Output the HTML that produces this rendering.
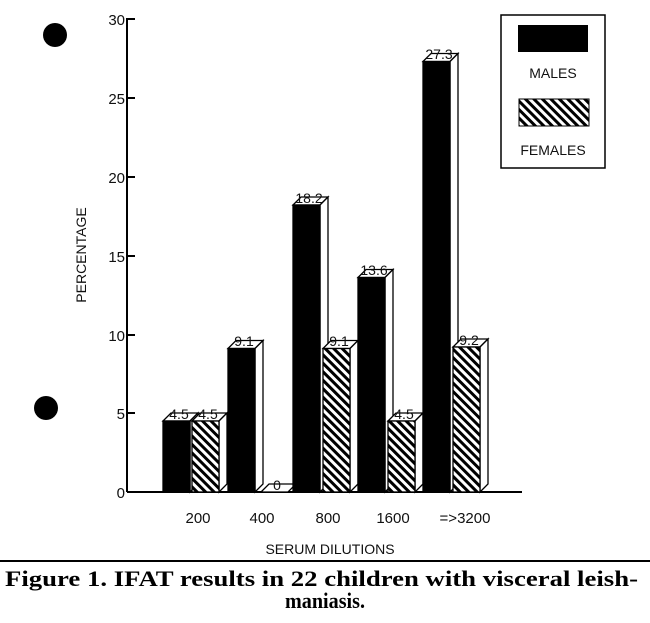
<!DOCTYPE html>
<html><head><style>
body{margin:0;background:#fff;width:650px;height:623px;overflow:hidden}
</style></head><body>
<svg width="650" height="623" xmlns="http://www.w3.org/2000/svg" style="position:absolute;left:0;top:0">
<defs>
<pattern id="h" patternUnits="userSpaceOnUse" width="6" height="6" patternTransform="rotate(-45)">
<rect width="6" height="6" fill="#fff"/><rect width="3" height="6" fill="#000"/>
</pattern>
</defs>
<circle cx="55" cy="35" r="12" fill="#000"/>
<circle cx="46" cy="408" r="12" fill="#000"/>
<g font-family="Liberation Sans Narrow, Liberation Sans, sans-serif" font-size="15" fill="#111">
<line x1="127" y1="18" x2="127" y2="492" stroke="#000" stroke-width="2"/>
<line x1="127" y1="492" x2="522" y2="492" stroke="#000" stroke-width="2"/>
<g stroke="#000" stroke-width="2">
<line x1="127" y1="19" x2="135" y2="19"/><line x1="127" y1="98" x2="135" y2="98"/>
<line x1="127" y1="177" x2="135" y2="177"/><line x1="127" y1="256" x2="135" y2="256"/>
<line x1="127" y1="335" x2="135" y2="335"/><line x1="127" y1="413" x2="135" y2="413"/>
</g>
<g text-anchor="end">
<text x="125" y="25">30</text><text x="125" y="104">25</text><text x="125" y="183">20</text>
<text x="125" y="262">15</text><text x="125" y="341">10</text><text x="125" y="419">5</text><text x="125" y="498">0</text>
</g>
<text transform="translate(86,255) rotate(-90)" text-anchor="middle" font-size="14">PERCENTAGE</text>
<g text-anchor="middle">
<text x="198" y="523">200</text><text x="262" y="523">400</text><text x="328" y="523">800</text>
<text x="393" y="523">1600</text><text x="465" y="523">=&gt;3200</text>
<text x="330" y="554" font-size="14">SERUM DILUTIONS</text>
</g>
</g>
<g stroke="#000" stroke-width="1.3">
<polygon points="163,421 171,413 198,413 190,421" fill="#fff"/><polygon points="190,421 198,413 198,484 190,492" fill="#fff"/><rect x="163" y="421" width="27" height="71" fill="#000"/>
<polygon points="192,421 200,413 227,413 219,421" fill="#fff"/><polygon points="219,421 227,413 227,484 219,492" fill="#fff"/><rect x="192" y="421" width="27" height="71" fill="url(#h)"/>
<polygon points="228,348.5 236,340.5 263,340.5 255,348.5" fill="#fff"/><polygon points="255,348.5 263,340.5 263,484 255,492" fill="#fff"/><rect x="228" y="348.5" width="27" height="143.5" fill="#000"/>
<polygon points="261,492 269,484 296,484 288,492" fill="#fff"/>
<polygon points="293,205 301,197 328,197 320,205" fill="#fff"/><polygon points="320,205 328,197 328,484 320,492" fill="#fff"/><rect x="293" y="205" width="27" height="287" fill="#000"/>
<polygon points="323,348.5 331,340.5 358,340.5 350,348.5" fill="#fff"/><polygon points="350,348.5 358,340.5 358,484 350,492" fill="#fff"/><rect x="323" y="348.5" width="27" height="143.5" fill="url(#h)"/>
<polygon points="358,277.5 366,269.5 393,269.5 385,277.5" fill="#fff"/><polygon points="385,277.5 393,269.5 393,484 385,492" fill="#fff"/><rect x="358" y="277.5" width="27" height="214.5" fill="#000"/>
<polygon points="388,421 396,413 423,413 415,421" fill="#fff"/><polygon points="415,421 423,413 423,484 415,492" fill="#fff"/><rect x="388" y="421" width="27" height="71" fill="url(#h)"/>
<polygon points="423,61.5 431,53.5 458,53.5 450,61.5" fill="#fff"/><polygon points="450,61.5 458,53.5 458,484 450,492" fill="#fff"/><rect x="423" y="61.5" width="27" height="430.5" fill="#000"/>
<polygon points="453,347 461,339 488,339 480,347" fill="#fff"/><polygon points="480,347 488,339 488,484 480,492" fill="#fff"/><rect x="453" y="347" width="27" height="145" fill="url(#h)"/>
</g>
<g font-family="Liberation Sans Narrow, Liberation Sans, sans-serif" font-size="14" text-anchor="middle" fill="#111">
<text x="179" y="419">4.5</text><text x="208" y="419">4.5</text><text x="244" y="346">9.1</text>
<text x="277" y="490">0</text><text x="309" y="203">18.2</text><text x="339" y="346">9.1</text>
<text x="374" y="275">13.6</text><text x="404" y="419">4.5</text><text x="439" y="59">27.3</text>
<text x="469" y="345">9.2</text>
</g>
<rect x="501" y="15" width="104" height="153" fill="#fff" stroke="#000" stroke-width="1.5"/>
<rect x="518" y="25" width="70" height="27" fill="#000"/>
<rect x="519" y="99" width="70" height="27" fill="url(#h)" stroke="#000"/>
<g font-family="Liberation Sans Narrow, Liberation Sans, sans-serif" font-size="14" text-anchor="middle" fill="#111">
<text x="553" y="78">MALES</text><text x="553" y="155">FEMALES</text>
</g>
<line x1="0" y1="561" x2="650" y2="561" stroke="#000" stroke-width="2"/>
<g font-family="Liberation Serif, serif" font-weight="bold" font-size="22" fill="#000">
<text x="5" y="586" textLength="633" lengthAdjust="spacingAndGlyphs">Figure 1. IFAT results in 22 children with visceral leish-</text>
<text x="325" y="608" text-anchor="middle" textLength="80" lengthAdjust="spacingAndGlyphs">maniasis.</text>
</g>
</svg>
</body></html>
